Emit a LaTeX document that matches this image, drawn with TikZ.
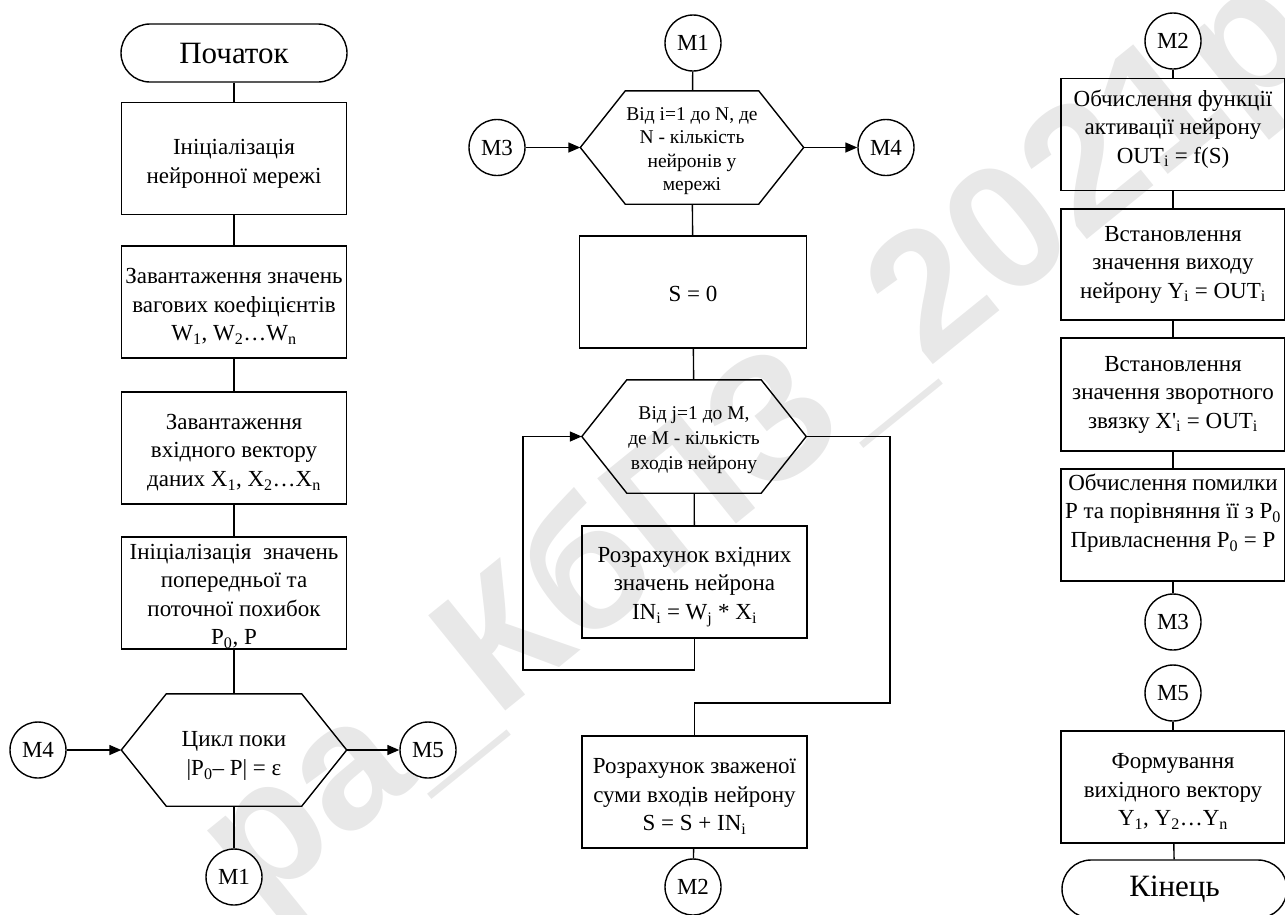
\documentclass[tikz,border=0pt]{standalone}
\usepackage{fontspec}
\setmainfont{Liberation Serif}
\newfontfamily\wmfont{Liberation Sans}
\usetikzlibrary{arrows.meta}
\newcommand\drawhexa[1]{\draw[ln] (#1.west) -- ([xshift=45pt]#1.north west) -- ([xshift=-45pt]#1.north east) -- (#1.east) -- ([xshift=-45pt]#1.south east) -- ([xshift=45pt]#1.south west) -- cycle;}
\newcommand\tstrut[1]{\rule{0pt}{#1}}
\newcommand\bstrut[1]{\rule[-#1]{0pt}{0pt}}
\begin{document}
\begin{tikzpicture}[x=1pt,y=-1pt,
  every node/.style={inner sep=0pt},
  ln/.style={line width=1.4pt},
  box/.style={draw, line width=1.4pt, minimum width=225pt, minimum height=112pt, align=center, font=\fontsize{23}{28.5}\selectfont},
  term/.style={draw, line width=1.4pt, rounded corners=29pt, minimum width=226pt, minimum height=58pt, font=\fontsize{31}{36}\selectfont},
  conn/.style={draw, circle, line width=1.4pt, minimum size=56pt, fill=white, font=\fontsize{23}{28}\selectfont},
  hexn/.style={minimum width=225pt, minimum height=112pt, align=center},
  small/.style={font=\fontsize{19.5}{23.5}\selectfont},
  txt/.style={align=center, font=\fontsize{23}{28.5}\selectfont},
  arr/.style={line width=1.4pt, -{Triangle[length=12pt,width=10pt]}},
  wm/.style={font=\wmfont\bfseries\fontsize{178}{178}\selectfont, text=gray!18}
]
\useasboundingbox (0,0) rectangle (1285,914);
% watermark
\node[wm, rotate=39] (wm) at (760,445) {ра\_КбПЗ\_2021р};

% ---------- left column ----------
\node[term] (start) at (234,53) {Початок};
\node[box] (b1) at (234,158.5) {\tstrut{26pt}Ініціалізація\\нейронної мережі};
\node[box] (b2) at (234,302) {\tstrut{24pt}Завантаження значень\\вагових коефіцієнтів\\W\textsubscript{1}, W\textsubscript{2}…W\textsubscript{n}};
\node[box] (b3) at (234,448) {\tstrut{24pt}Завантаження\\вхідного вектору\\даних X\textsubscript{1}, X\textsubscript{2}…X\textsubscript{n}};
\node[box] (b4) at (234,593) {\tstrut{22pt}Ініціалізація\ \ значень\\попередньої та\\поточної похибок\\P\textsubscript{0}, P};
\node[hexn, font=\fontsize{23}{28.5}\selectfont] (h0) at (234,750) {\tstrut{27pt}Цикл поки\\|P\textsubscript{0}– P| = ε};
\drawhexa{h0}
\node[conn] (m4a) at (38,750) {M4};
\node[conn] (m5a) at (428,750) {M5};
\node[conn] (m1a) at (234,877) {M1};
\draw[ln] (start) -- (b1);
\draw[ln] (b1) -- (b2);
\draw[ln] (b2) -- (b3);
\draw[ln] (b3) -- (b4);
\draw[ln] (b4) -- (h0);
\draw[ln] (h0) -- (m1a);
\draw[arr] (m4a) -- (h0.west);
\draw[arr] (h0.east) -- (m5a);

% ---------- middle column ----------
\node[conn] (m1b) at (693,43) {M1};
\node[hexn, small, minimum width=223pt, minimum height=113pt] (h1) at (692,147.5) {\tstrut{20pt}Від i=1 до N, де\\N - кількість\\нейронів у\\мережі};
\drawhexa{h1}
\node[conn] (m3b) at (497,147.5) {M3};
\node[conn] (m4b) at (886,147.5) {M4};
\node[box, minimum width=227pt] (s0) at (693,292) {\tstrut{20pt}S = 0};
\node[hexn, small, font=\fontsize{19.5}{25}\selectfont, minimum width=224pt, minimum height=113pt] (h2) at (694,436.5) {\tstrut{20pt}Від j=1 до M,\\де M - кількість\\входів нейрону};
\drawhexa{h2}
\node[box] (c1) at (694.5,582) {\tstrut{25pt}Розрахунок вхідних\\значень нейрона\\IN\textsubscript{i} = W\textsubscript{j} * X\textsubscript{i}};
\node[box] (c2) at (694.5,792) {\tstrut{24pt}Розрахунок зваженої\\суми входів нейрону\\S = S + IN\textsubscript{i}};
\node[conn] (m2b) at (693,887) {M2};
\coordinate (lpA) at (523,670);
\coordinate (exA) at (890,703);
\draw[ln] (m1b) -- (h1);
\draw[arr] (m3b) -- (h1.west);
\draw[arr] (h1.east) -- (m4b);
\draw[ln] (h1) -- (s0);
\draw[ln] (s0) -- (h2);
\draw[ln] (h2) -- (c1);
\draw[arr] (c1.south) |- (lpA) |- (h2.west);
\draw[ln] (h2.east) -| (exA) -| (c2.north);
\draw[ln] (c2) -- (m2b);

% ---------- right column ----------
\node[conn] (m2c) at (1173,41) {M2};
\node[box, minimum width=224pt] (r1) at (1173,134.5) {Обчислення функції\\активації нейрону\\OUT\textsubscript{i} = f(S)\bstrut{16pt}};
\node[box, minimum width=224pt, minimum height=111pt] (r2) at (1173,264.5) {Встановлення\\значення виходу\\нейрону Y\textsubscript{i} = OUT\textsubscript{i}};
\node[box, minimum width=224pt, minimum height=113pt] (r3) at (1173,394.5) {Встановлення\\значення зворотного\\звязку X\textquotesingle\textsubscript{i} = OUT\textsubscript{i}};
\node[box, minimum width=224pt] (r4) at (1173,525) {};
\node[txt] (r4t) at (1173,513) {Обчислення помилки\\P та порівняння її з P\textsubscript{0}\\Привласнення P\textsubscript{0} = P};
\node[conn] (m3c) at (1173,622) {M3};
\node[conn] (m5c) at (1173,693) {M5};
\node[box, minimum width=224pt] (r5) at (1173,787) {\tstrut{24pt}Формування\\вихідного вектору\\Y\textsubscript{1}, Y\textsubscript{2}…Y\textsubscript{n}};
\node[term, minimum width=225pt] (end) at (1174.5,889) {Кінець};
\draw[ln] (m2c) -- (r1);
\draw[ln] (r1) -- (r2);
\draw[ln] (r2) -- (r3);
\draw[ln] (r3) -- (r4);
\draw[ln] (r4) -- (m3c);
\draw[ln] (m5c) -- (r5);
\draw[ln] (r5) -- (end);
\end{tikzpicture}
\end{document}
